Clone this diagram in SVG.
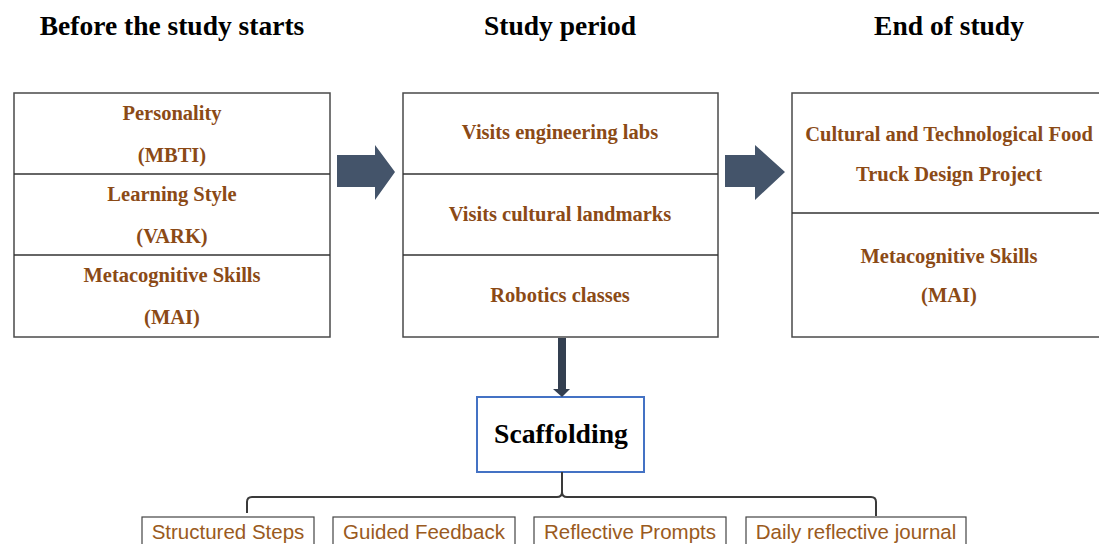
<svg xmlns="http://www.w3.org/2000/svg" width="1099" height="544" viewBox="0 0 1099 544">
  <style>
    .hdr { font-family: "Liberation Serif", "Times New Roman", serif; font-weight: bold; font-size: 27.5px; fill: #000; text-anchor: middle; }
    .cell { font-family: "Liberation Serif", "Times New Roman", serif; font-weight: bold; font-size: 20.5px; fill: #8B4A16; text-anchor: middle; }
    .box { fill: #fff; stroke: #4a4a4a; stroke-width: 1.5; }
    .div { stroke: #333; stroke-width: 1.5; }
    .tag { fill: #fff; stroke: #444; stroke-width: 1.2; }
    .tagtxt { font-family: "Liberation Sans", Arial, sans-serif; font-size: 20.5px; fill: #9A5A20; text-anchor: middle; }
    .bigarrow { fill: #44546A; }
    .wire { fill: none; stroke: #3a3a3a; stroke-width: 2; }
  </style>

  <rect width="1099" height="544" fill="#fff"/>

  <!-- column headings -->
  <text class="hdr" x="172" y="35">Before the study starts</text>
  <text class="hdr" x="560" y="35">Study period</text>
  <text class="hdr" x="949" y="35">End of study</text>

  <!-- before the study -->
  <g id="before">
    <rect class="box" x="14" y="93" width="316" height="244"/>
    <line class="div" x1="14" y1="174" x2="330" y2="174"/>
    <line class="div" x1="14" y1="255" x2="330" y2="255"/>
    <text class="cell" x="172" y="120">Personality</text>
    <text class="cell" x="172" y="162">(MBTI)</text>
    <text class="cell" x="172" y="201">Learning Style</text>
    <text class="cell" x="172" y="243">(VARK)</text>
    <text class="cell" x="172" y="282">Metacognitive Skills</text>
    <text class="cell" x="172" y="324">(MAI)</text>
  </g>

  <!-- study period -->
  <g id="study">
    <rect class="box" x="403" y="93" width="315" height="244"/>
    <line class="div" x1="403" y1="174" x2="718" y2="174"/>
    <line class="div" x1="403" y1="255" x2="718" y2="255"/>
    <text class="cell" x="560" y="139">Visits engineering labs</text>
    <text class="cell" x="560" y="221">Visits cultural landmarks</text>
    <text class="cell" x="560" y="302">Robotics classes</text>
  </g>

  <!-- end of study -->
  <g id="end">
    <rect class="box" x="792" y="93" width="312" height="244"/>
    <line class="div" x1="792" y1="213" x2="1104" y2="213"/>
    <text class="cell" x="949" y="141">Cultural and Technological Food</text>
    <text class="cell" x="949" y="181">Truck Design Project</text>
    <text class="cell" x="949" y="263">Metacognitive Skills</text>
    <text class="cell" x="949" y="302">(MAI)</text>
  </g>

  <!-- scaffolding -->
  <g id="scaffolding">
    <rect x="477" y="397" width="167" height="75" fill="#fff" stroke="#4472C4" stroke-width="2"/>
    <text x="561" y="443" font-family="Liberation Serif, Times New Roman, serif" font-weight="bold" font-size="27.7" fill="#000" text-anchor="middle">Scaffolding</text>
  </g>

  <!-- strategies -->
  <g id="steps">
    <rect class="tag" x="142" y="517" width="172" height="30"/>
    <text class="tagtxt" x="228" y="539">Structured Steps</text>
  </g>
  <g id="feedback">
    <rect class="tag" x="333" y="517" width="182" height="30"/>
    <text class="tagtxt" x="424" y="539">Guided Feedback</text>
  </g>
  <g id="prompts">
    <rect class="tag" x="534" y="517" width="192" height="30"/>
    <text class="tagtxt" x="630" y="539">Reflective Prompts</text>
  </g>
  <g id="journal">
    <rect class="tag" x="746" y="517" width="220" height="30"/>
    <text class="tagtxt" x="856" y="539">Daily reflective journal</text>
  </g>

  <!-- connectors -->
  <g id="connectors">
    <polygon class="bigarrow" points="337,155 375,155 375,145 395,172 375,200 375,187 337,187"/>
    <polygon class="bigarrow" points="725,155 755,155 755,145 785,172 755,200 755,187 725,187"/>
    <polygon fill="#333F50" points="558,338 566,338 566,389 570,389 562,397 553,389 558,389"/>
    <path class="wire" d="M562,472 V492 Q562,497 557,497 H252 Q247,497 247,502 V513"/>
    <path class="wire" d="M562,492 Q562,497 567,497 H871 Q876,497 876,502 V516"/>
  </g>
</svg>
